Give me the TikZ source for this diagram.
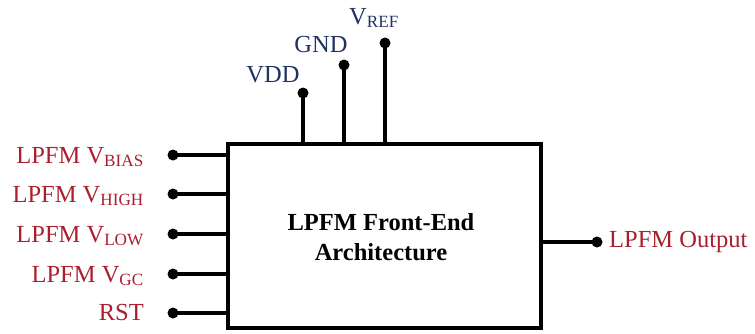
\documentclass[tikz,border=0pt]{standalone}
\usepackage{fontspec}
\setmainfont{Liberation Serif}
\definecolor{sigred}{RGB}{170,30,45}
\definecolor{sigblue}{RGB}{30,50,100}
\begin{document}
\begin{tikzpicture}[x=1pt,y=-1pt,
  wire/.style={line width=3.6pt},
  pin/.style={circle,fill=black,inner sep=0pt,minimum size=11pt},
  inlab/.style={text=sigred,font=\fontsize{24.5}{28}\selectfont,inner sep=0pt},
  toplab/.style={text=sigblue,font=\fontsize{24.5}{28}\selectfont,inner sep=0pt},
  blockbox/.style={draw,line width=3.6pt,inner sep=0pt}]
\useasboundingbox (0,0) rectangle (755,333);
\node[blockbox,minimum width=313pt,minimum height=184pt] (blk) at (384.5,236) {};
\node[align=center,font=\bfseries\fontsize{24.5}{30}\selectfont] (title) at (381,237) {LPFM Front-End\\Architecture};
% left inputs
\foreach \n/\y in {a/155,b/194,c/234,d/274,e/313}{
  \node[pin] (p\n) at (173,\y) {};
  \coordinate (q\n) at (228,\y);
  \draw[wire] (p\n.center) -- (q\n);
}
\node[inlab,anchor=east] (la) at (144,157) {LPFM V\textsubscript{BIAS}};
\node[inlab,anchor=east] (lb) at (144,196) {LPFM V\textsubscript{HIGH}};
\node[inlab,anchor=east] (lc) at (144,236) {LPFM V\textsubscript{LOW}};
\node[inlab,anchor=east] (ld) at (144,276) {LPFM V\textsubscript{GC}};
\node[inlab,anchor=east] (le) at (144,313) {RST};
% top pins
\node[pin] (vdd) at (303,93) {};
\node[pin] (gnd) at (344,65) {};
\node[pin] (vref) at (385,43) {};
\coordinate (tv) at (303,144);
\coordinate (tg) at (344,144);
\coordinate (tr) at (385,144);
\draw[wire] (vdd.center) -- (tv);
\draw[wire] (gnd.center) -- (tg);
\draw[wire] (vref.center) -- (tr);
\node[toplab] (lvdd) at (273,75) {VDD};
\node[toplab] (lgnd) at (321,45) {GND};
\node[toplab] (lvref) at (374,18) {V\textsubscript{REF}};
% output
\node[pin] (out) at (597,242) {};
\coordinate (ob) at (541,242);
\draw[wire] (ob) -- (out.center);
\node[inlab,anchor=west] (lout) at (609,242) {LPFM Output};
\end{tikzpicture}
\end{document}
